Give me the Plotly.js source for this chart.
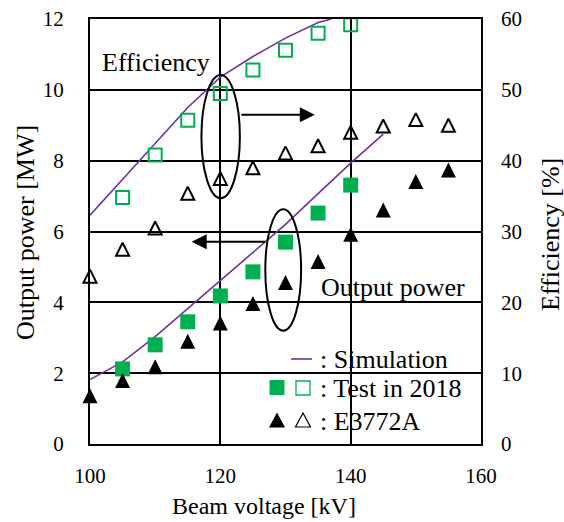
<!DOCTYPE html>
<html>
<head>
<meta charset="utf-8">
<script src="https://cdn.plot.ly/plotly-3.0.1.min.js"></script>
<style>html,body{margin:0;padding:0;background:#fff;}#chart{width:564px;height:522px;}</style>
</head>
<body>
<div id="chart"></div>
<script>
// ---- data ----
var simVoltage = [100, 105, 110, 115, 120, 125, 130, 135, 140, 145];
var simPower = [1.82, 2.32, 3.03, 3.82, 4.6, 5.4, 6.2, 7.07, 7.93, 8.75];
var simEffVoltage = [100, 105, 110, 115, 120, 125, 130, 135, 137];
var simEfficiency = [32.3, 37.4, 42.5, 47.5, 51.8, 54.7, 57.3, 59.5, 60.0];

var testVoltage = [105, 110, 115, 120, 125, 130, 135, 140];
var testPower = [2.12, 2.8, 3.45, 4.18, 4.86, 5.7, 6.52, 7.31];
var testEfficiency = [34.8, 40.8, 45.7, 49.5, 52.8, 55.6, 58.0, 59.2];

var e3772Voltage = [100, 105, 110, 115, 120, 125, 130, 135, 140, 145, 150, 155];
var e3772Power = [1.36, 1.79, 2.18, 2.9, 3.42, 3.97, 4.56, 5.15, 5.92, 6.61, 7.41, 7.74];
var e3772Efficiency = [23.7, 27.5, 30.5, 35.4, 37.5, 39.0, 41.1, 42.1, 44.0, 44.9, 45.8, 45.0];

var xTicks = [100, 120, 140, 160];
var yTicks = [0, 2, 4, 6, 8, 10, 12];
var y2Ticks = [0, 10, 20, 30, 40, 50, 60];

// ---- styling ----
var GREEN = '#00B050', PURPLE = '#7030A0';
var FONT = 'Liberation Serif, Times New Roman, serif';
var L = 90, R = 481, T = 19, B = 444;
function px(x) { return (x - L) / (R - L); }
function py(y) { return (B - y) / (B - T); }
// 'arrow-up' markers hang below their anchor; hidden twin axes lift them so they sit centred
var TRI_FILLED = 15, TRI_OPEN = 13;
var liftPow = (TRI_FILLED / 2) / ((B - T) / 12);
var liftEff = (TRI_OPEN / 2) / ((B - T) / 60);

var traces = [
  {x: simVoltage, y: simPower, mode: 'lines', line: {color: PURPLE, width: 1.6}, yaxis: 'y', showlegend: false},
  {x: simEffVoltage, y: simEfficiency, mode: 'lines', line: {color: PURPLE, width: 1.6}, yaxis: 'y2', showlegend: false},
  {x: testVoltage, y: testEfficiency, mode: 'markers', yaxis: 'y2', showlegend: false, cliponaxis: false,
   marker: {symbol: 'square-open', size: 13, color: GREEN, line: {color: GREEN, width: 2}}},
  {x: e3772Voltage, y: e3772Efficiency, mode: 'markers', yaxis: 'y4', showlegend: false, cliponaxis: false,
   marker: {symbol: 'arrow-up-open', size: TRI_OPEN, color: '#000', line: {color: '#000', width: 2}}},
  {x: testVoltage, y: testPower, mode: 'markers', yaxis: 'y', showlegend: false, cliponaxis: false,
   marker: {symbol: 'square', size: 15, color: GREEN}},
  {x: e3772Voltage, y: e3772Power, mode: 'markers', yaxis: 'y3', showlegend: false, cliponaxis: false,
   marker: {symbol: 'arrow-up', size: TRI_FILLED, color: '#000', line: {width: 0}}}
];

function tri(cx, cy, w, h) {
  return 'M' + px(cx - w / 2) + ',' + py(cy + h / 2) + ' L' + px(cx + w / 2) + ',' + py(cy + h / 2) +
         ' L' + px(cx) + ',' + py(cy - h / 2) + ' Z';
}

var shapes = [
  // white background behind legend and "Output power" label (covers grid lines)
  {type: 'rect', xref: 'paper', yref: 'paper', x0: px(265), x1: px(474), y0: py(438), y1: py(343),
   fillcolor: '#fff', line: {width: 0}, layer: 'between'},
  {type: 'rect', xref: 'paper', yref: 'paper', x0: px(318), x1: px(478), y0: py(302), y1: py(270),
   fillcolor: '#fff', line: {width: 0}, layer: 'between'},
  // ellipses
  {type: 'circle', xref: 'x', yref: 'y', x0: 117.1, x1: 123.0, y0: 6.94, y1: 10.42, line: {color: '#000', width: 2}},
  {type: 'circle', xref: 'x', yref: 'y', x0: 126.9, x1: 132.4, y0: 3.2, y1: 6.63, line: {color: '#000', width: 2}},
  // legend symbols
  {type: 'line', xref: 'paper', yref: 'paper', x0: px(291), x1: px(312), y0: py(359), y1: py(359),
   line: {color: PURPLE, width: 1.6}},
  {type: 'rect', xref: 'paper', yref: 'paper', x0: px(269.5), x1: px(284.5), y0: py(395), y1: py(380),
   fillcolor: GREEN, line: {width: 0}},
  {type: 'rect', xref: 'paper', yref: 'paper', x0: px(296), x1: px(310), y0: py(395), y1: py(381),
   fillcolor: 'rgba(0,0,0,0)', line: {color: GREEN, width: 1.3}},
  {type: 'path', xref: 'paper', yref: 'paper', path: tri(277, 420, 16, 15), fillcolor: '#000', line: {width: 0}},
  {type: 'path', xref: 'paper', yref: 'paper', path: tri(303, 420, 15, 14), fillcolor: 'rgba(0,0,0,0)',
   line: {color: '#000', width: 1.2}}
];

var txt = function (t, x, y, size, extra) {
  var a = {text: t, xref: 'paper', yref: 'paper', x: px(x), y: py(y), showarrow: false,
           xanchor: 'center', yanchor: 'middle', font: {family: FONT, size: size, color: '#000'}};
  for (var k in extra) a[k] = extra[k];
  return a;
};

var annotations = [
  txt('Efficiency', 156, 62, 26),
  txt('Output power', 393, 287, 26),
  txt(': Simulation', 318, 359, 26, {xanchor: 'left'}),
  txt(': Test in 2018', 318, 388, 26, {xanchor: 'left'}),
  txt(': E3772A', 318, 421, 26, {xanchor: 'left'}),
  txt('Output power [MW]', 25, 233, 26, {textangle: -90}),
  txt('Efficiency [%]', 550, 235, 26, {textangle: -90}),
  txt('Beam voltage [kV]', 264, 506, 24),
  // arrows
  {x: 134.5, y: 9.3, ax: 123.0, ay: 9.3, xref: 'x', yref: 'y', axref: 'x', ayref: 'y', text: '',
   showarrow: true, arrowhead: 2, arrowsize: 1.5, arrowwidth: 2, arrowcolor: '#000', standoff: 0},
  {x: 115.6, y: 5.71, ax: 127.1, ay: 5.71, xref: 'x', yref: 'y', axref: 'x', ayref: 'y', text: '',
   showarrow: true, arrowhead: 2, arrowsize: 1.5, arrowwidth: 2, arrowcolor: '#000', standoff: 0}
];

var axisCommon = {showline: true, linecolor: '#000', linewidth: 2, mirror: true, ticks: '',
  zeroline: false, automargin: false, tickfont: {family: FONT, size: 21, color: '#000'},
  showgrid: true, gridcolor: '#000', gridwidth: 2};

var layout = {
  width: 564, height: 522,
  margin: {l: L, r: 564 - R, t: T, b: 522 - B},
  paper_bgcolor: '#fff', plot_bgcolor: '#fff',
  showlegend: false,
  xaxis: Object.assign({}, axisCommon, {range: [100, 160], tickvals: xTicks, ticklabelstandoff: 12}),
  yaxis: Object.assign({}, axisCommon, {range: [0, 12], tickvals: yTicks, ticklabelstandoff: 20}),
  yaxis2: {overlaying: 'y', side: 'right', range: [0, 60], tickvals: y2Ticks, showgrid: false,
    zeroline: false, showline: false, ticks: '', automargin: false, ticklabelstandoff: 19,
    tickfont: {family: FONT, size: 21, color: '#000'}},
  yaxis3: {overlaying: 'y', range: [-liftPow, 12 - liftPow], visible: false, automargin: false},
  yaxis4: {overlaying: 'y', range: [-liftEff, 60 - liftEff], visible: false, automargin: false},
  shapes: shapes,
  annotations: annotations
};

Plotly.newPlot('chart', traces, layout, {staticPlot: true, displayModeBar: false});
</script>
</body>
</html>
